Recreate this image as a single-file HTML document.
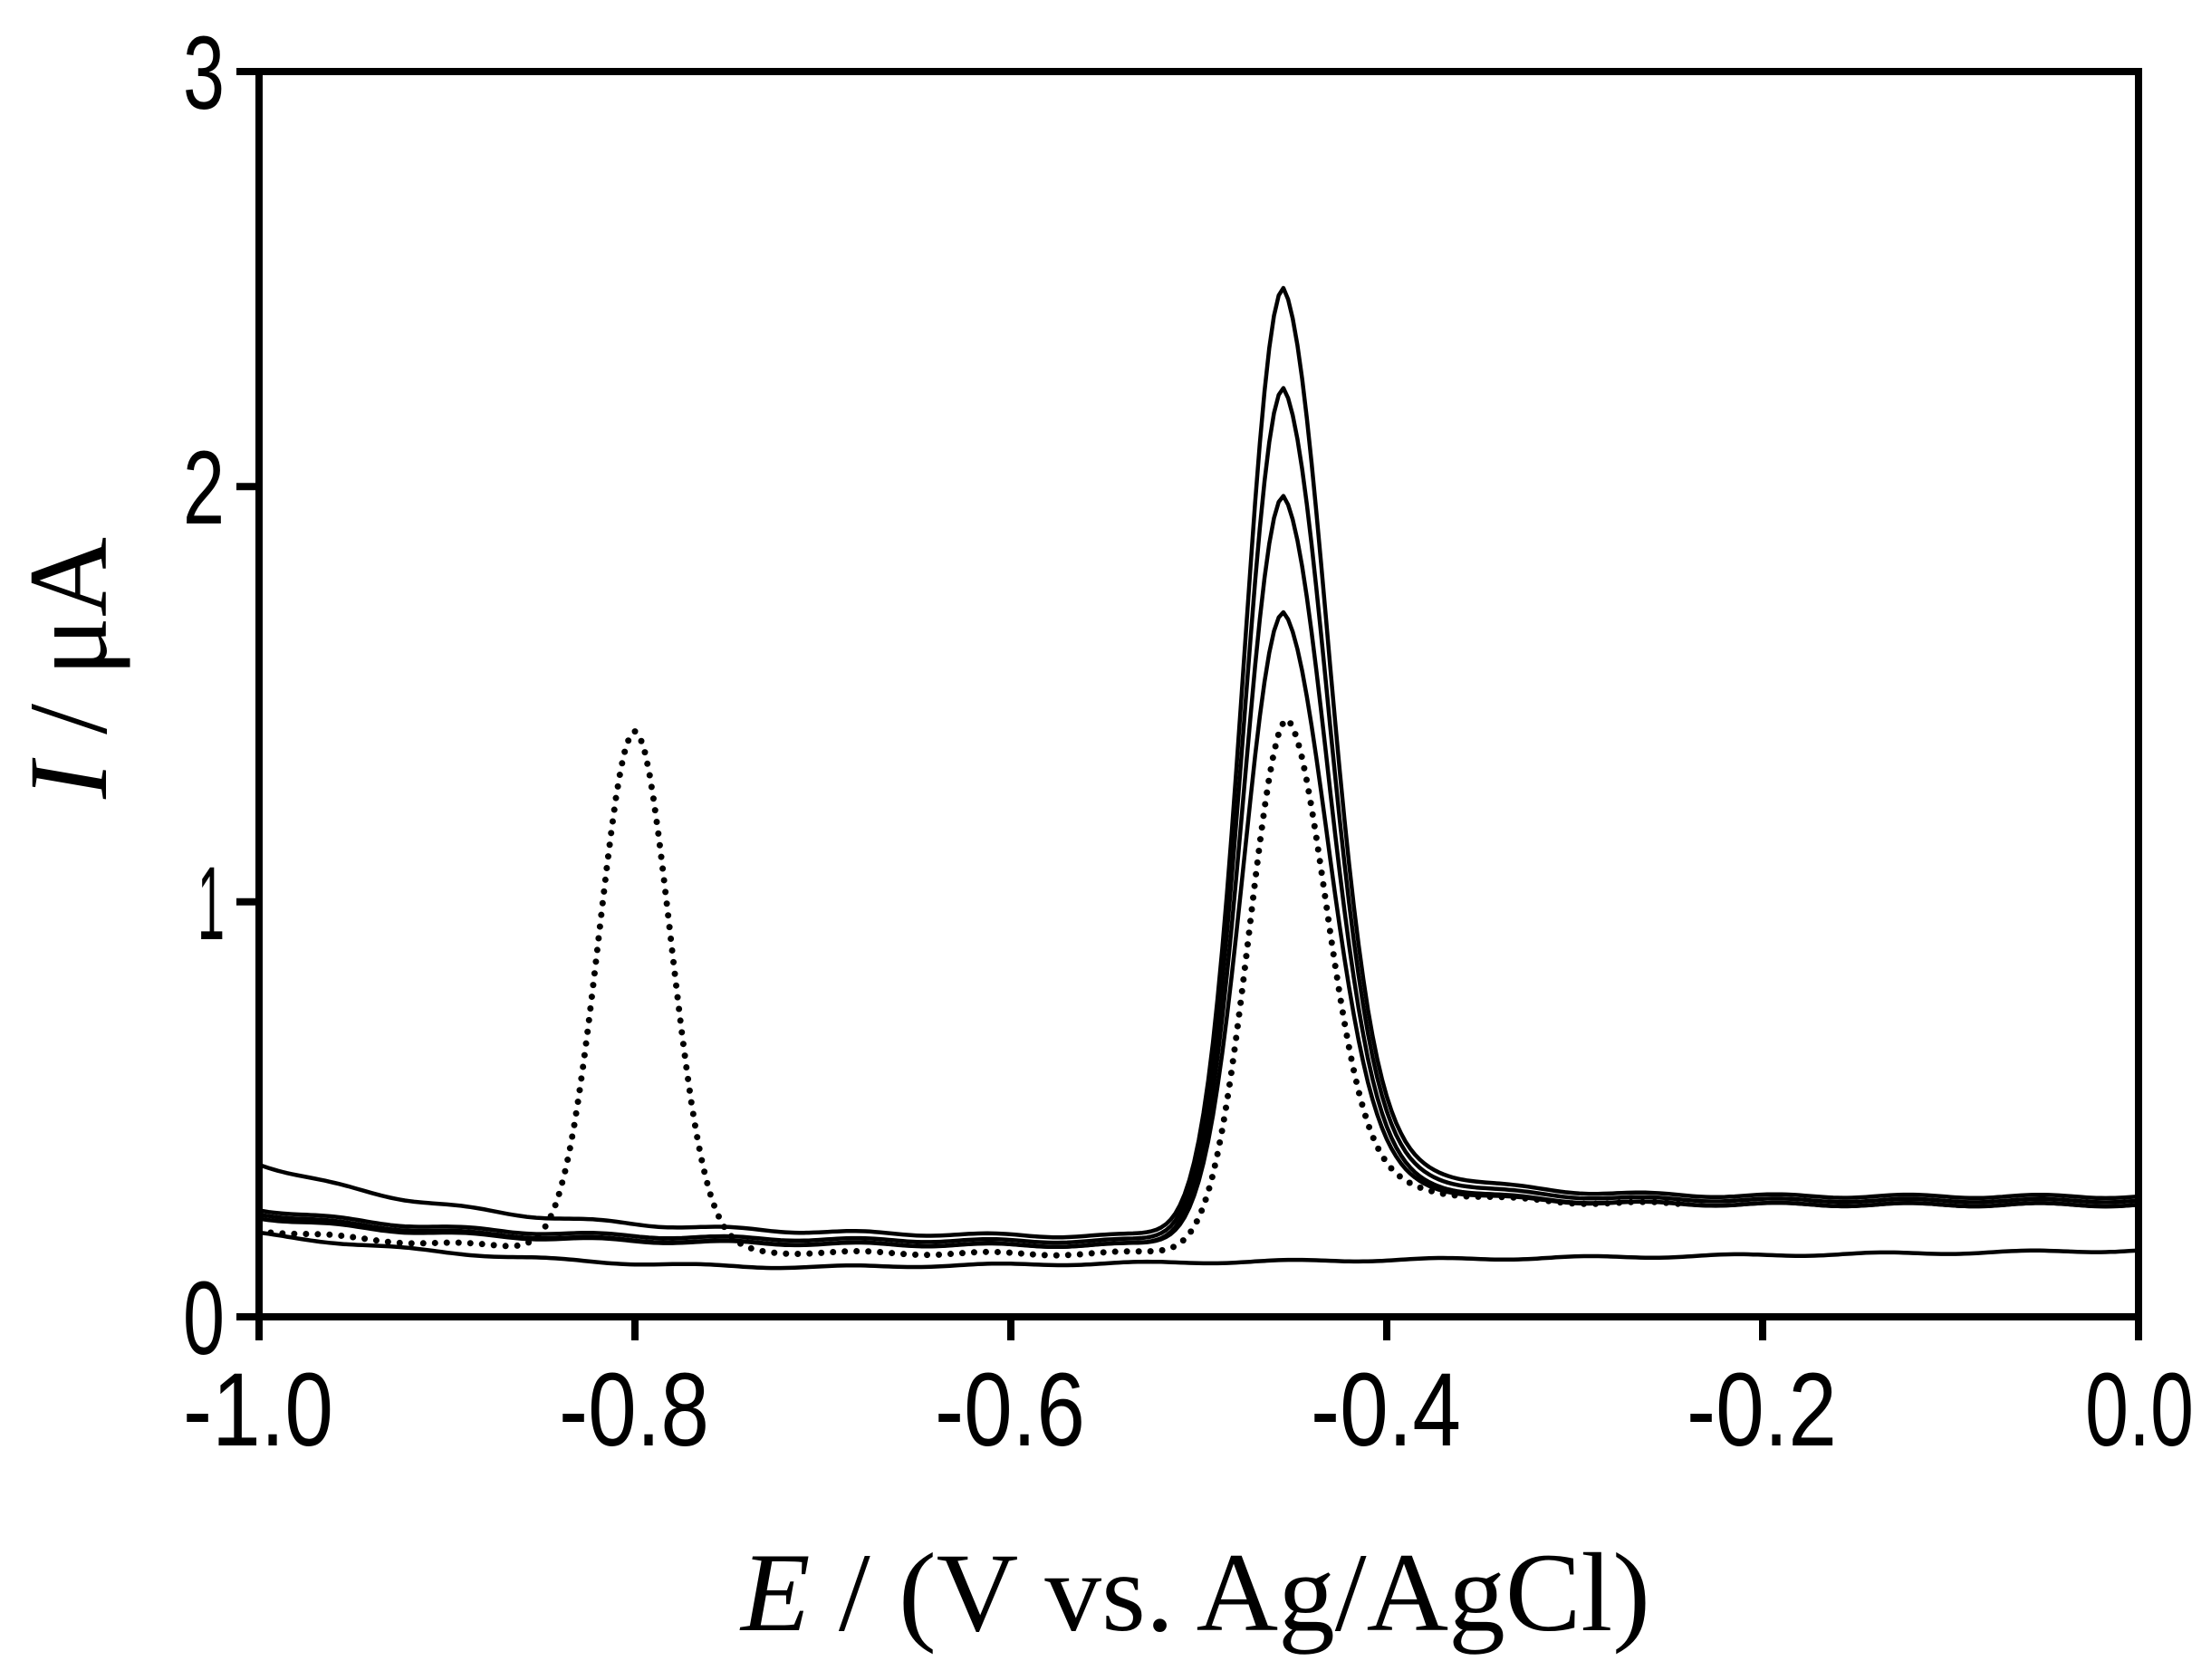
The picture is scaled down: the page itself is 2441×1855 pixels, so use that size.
<!DOCTYPE html>
<html><head><meta charset="utf-8"><style>html,body{margin:0;padding:0;background:#fff}svg{display:block}</style></head>
<body>
<svg id="s" width="2441" height="1855" viewBox="0 0 2441 1855" xmlns="http://www.w3.org/2000/svg">
<rect width="2441" height="1855" fill="#fff"/>
<g id="curves" fill="none" stroke="#000" stroke-width="4.5" stroke-linejoin="round"></g>
<g stroke="#000" stroke-width="8" fill="none" stroke-linecap="butt">
<rect x="286" y="79" width="2075" height="1375"/>
<line x1="261" y1="79" x2="286" y2="79"/>
<line x1="261" y1="537.3" x2="286" y2="537.3"/>
<line x1="261" y1="995.7" x2="286" y2="995.7"/>
<line x1="261" y1="1454" x2="286" y2="1454"/>
<line x1="286" y1="1454" x2="286" y2="1480"/>
<line x1="701" y1="1454" x2="701" y2="1480"/>
<line x1="1116" y1="1454" x2="1116" y2="1480"/>
<line x1="1531" y1="1454" x2="1531" y2="1480"/>
<line x1="1946" y1="1454" x2="1946" y2="1480"/>
<line x1="2361" y1="1454" x2="2361" y2="1480"/>
</g>
<g font-family="Liberation Sans, Arial, sans-serif" font-size="115" fill="#000">
<text x="248" y="120" text-anchor="end" textLength="46" lengthAdjust="spacingAndGlyphs">3</text>
<text x="248" y="578" text-anchor="end" textLength="46" lengthAdjust="spacingAndGlyphs">2</text>
<text x="248" y="1037" text-anchor="end" textLength="30" lengthAdjust="spacingAndGlyphs">1</text>
<text x="248" y="1495" text-anchor="end" textLength="46" lengthAdjust="spacingAndGlyphs">0</text>
<text x="202" y="1596" textLength="166" lengthAdjust="spacingAndGlyphs">-1.0</text>
<text x="617" y="1596" textLength="166" lengthAdjust="spacingAndGlyphs">-0.8</text>
<text x="1032" y="1596" textLength="166" lengthAdjust="spacingAndGlyphs">-0.6</text>
<text x="1447" y="1596" textLength="166" lengthAdjust="spacingAndGlyphs">-0.4</text>
<text x="1862" y="1596" textLength="166" lengthAdjust="spacingAndGlyphs">-0.2</text>
<text x="2302" y="1596" textLength="120" lengthAdjust="spacingAndGlyphs">0.0</text>
</g>
<g font-family="Liberation Serif, Times New Roman, serif" font-size="124" fill="#000">
<text x="818" y="1800" textLength="1004" lengthAdjust="spacingAndGlyphs"><tspan font-style="italic">E</tspan> / (V vs. Ag/AgCl)</text>
<text transform="translate(117,882) rotate(-90)" x="0" y="0" textLength="289" lengthAdjust="spacingAndGlyphs"><tspan font-style="italic">I</tspan> / μA</text>
</g>
</svg>
<script>
(function(){
var g=document.getElementById('curves');
function X(e){return 286+(e+1)*2075;}
function Y(v){return 1454-v*458.33;}
function pk(E,E0,A,sl,sr){var d=E-E0;if(d<0)return A*Math.exp(-d*d/(2*sl*sl));return A*(0.84*Math.exp(-d*d/(2*sr*sr))+0.16*Math.exp(-d/0.045));}
function base(E,l,m,r){var s=1/(1+Math.exp(-(E+0.46)/0.02));var lf=(l-m)*Math.exp(-(E+1)/0.12);return m+lf+(r-m)*s+0.004*Math.sin(E*90);}
function path(f,a,b,dash){var p='';for(var E=a;E<=b+1e-9;E+=0.0025){var v=f(E);p+=(p?'L':'M')+X(E).toFixed(1)+' '+Y(v).toFixed(1);}
var el=document.createElementNS('http://www.w3.org/2000/svg','path');el.setAttribute('d',p);
if(dash){el.setAttribute('stroke-dasharray','0 13');el.setAttribute('stroke-linecap','round');el.setAttribute('stroke-width','7');}
g.appendChild(el);}
var C=[[2.23,0.37,0.19,0.29],[2.00,0.26,0.18,0.28],[1.75,0.25,0.17,0.27],[1.47,0.24,0.17,0.27]];
C.forEach(function(c){path(function(E){return base(E,c[1],c[2],c[3])+pk(E,-0.455,c[0],0.021,0.024);},-1,0);});
path(function(E){return base(E,0.21,0.15,0.27)+pk(E,-0.453,1.22,0.02,0.021)+1.25*Math.exp(-Math.pow(E+0.80,2)/(2*0.019*0.019));},-1,-0.24,true);
path(function(E){var v=E<-0.7?0.12+0.08*Math.pow((E+0.7)/0.3,2):0.12+0.04*(E+0.7)/0.7;return v+0.003*Math.sin(E*80);},-1,0);
})();
</script>
</body></html>
